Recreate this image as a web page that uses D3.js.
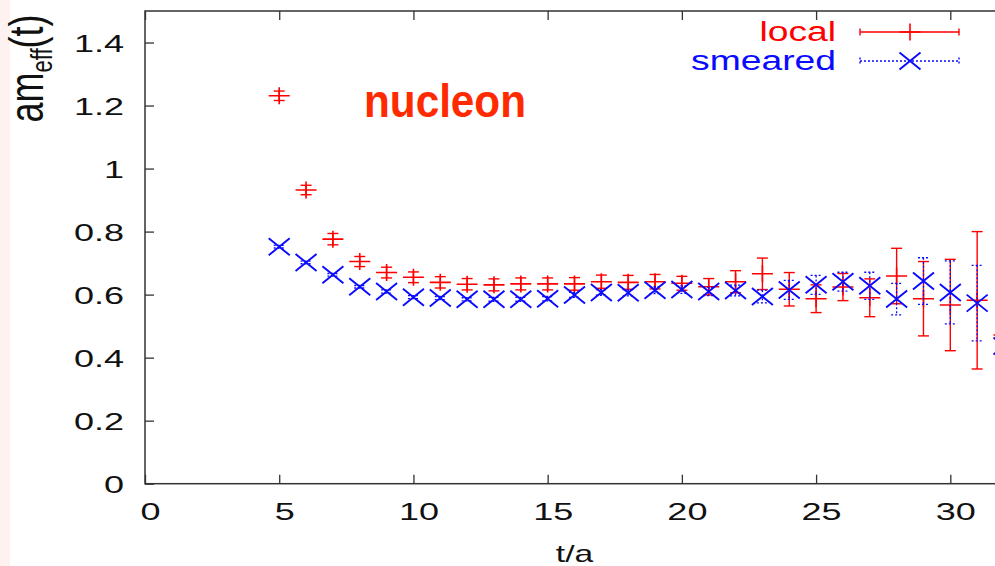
<!DOCTYPE html>
<html lang="en">
  <head>
    <meta charset="utf-8">
    <title>nucleon_effective_mass</title>
    <script src="https://d3js.org/d3.v7.js"></script>
    <style>
      body { margin: 0; background: white; }
      svg text { font-family: "Liberation Sans", Arial, Helvetica, sans-serif; }
    </style>
  </head>

  <body>
  <script>

// data

  var tVals = [5, 6, 7, 8, 9, 10, 11, 12, 13, 14, 15, 16, 17, 18, 19, 20,
               21, 22, 23, 24, 25, 26, 27, 28, 29, 30, 31, 32];

  var localVals = [1.231, 0.932, 0.776, 0.705, 0.670, 0.655, 0.639, 0.633,
                   0.631, 0.634, 0.634, 0.634, 0.641, 0.639, 0.641, 0.636,
                   0.625, 0.641, 0.666, 0.617, 0.587, 0.624, 0.590, 0.659,
                   0.587, 0.567, 0.582, 0.472];
  var localErr = [0.015, 0.015, 0.018, 0.016, 0.017, 0.017, 0.018, 0.018,
                  0.019, 0.019, 0.019, 0.020, 0.021, 0.022, 0.023, 0.022,
                  0.026, 0.035, 0.050, 0.053, 0.044, 0.043, 0.060, 0.088,
                  0.118, 0.145, 0.218, 0.300];

  var smearedVals = [0.752, 0.702, 0.663, 0.625, 0.610, 0.592, 0.589, 0.585,
                     0.585, 0.585, 0.587, 0.599, 0.607, 0.606, 0.614, 0.616,
                     0.610, 0.613, 0.594, 0.615, 0.631, 0.641, 0.628, 0.586,
                     0.643, 0.607, 0.573, 0.437];
  var smearedErr = [0.004, 0.004, 0.004, 0.004, 0.005, 0.005, 0.005, 0.005,
                    0.006, 0.006, 0.007, 0.008, 0.009, 0.010, 0.011, 0.012,
                    0.013, 0.017, 0.020, 0.030, 0.030, 0.030, 0.043, 0.050,
                    0.074, 0.100, 0.120, 0.200];

  var xTicks = [0, 5, 10, 15, 20, 25, 30];
  var yTicks = [0, 0.2, 0.4, 0.6, 0.8, 1, 1.2, 1.4];
  var yTickLabels = ["0", "0.2", "0.4", "0.6", "0.8", "1", "1.2", "1.4"];

  var seriesNames = ["local", "smeared"];

// sizes

  var w = 995;
  var h = 566;
  var plot = {left: 145, right: 1004, top: 11, bottom: 483.7};
  var red = "#ff0000";
  var blue = "#0a0aff";

  var xScale = d3.scaleLinear()
      .domain([0, 32])
      .range([plot.left, plot.right]);

  var yScale = d3.scaleLinear()
      .domain([0, 1.5])
      .range([plot.bottom, plot.top]);

  var svg = d3.select("body")
    .append("svg")
      .attr("width", w)
      .attr("height", h);

// pink strip on the left edge

  svg.append("rect")
      .attr("x", 0).attr("y", 0)
      .attr("width", 10).attr("height", h)
      .attr("fill", "#fdf2ef");

// axes, ticks pointing inward on all four sides

  var xAxis = d3.axisBottom(xScale).tickValues(xTicks).tickSize(-9).tickSizeOuter(0);
  var xAxisTop = d3.axisTop(xScale).tickValues(xTicks).tickSize(-9).tickSizeOuter(0).tickFormat("");
  var yAxis = d3.axisLeft(yScale).tickValues(yTicks).tickSize(-9).tickSizeOuter(0)
      .tickFormat((d, i) => yTickLabels[i]);
  var yAxisRight = d3.axisRight(yScale).tickValues(yTicks).tickSize(-9).tickSizeOuter(0).tickFormat("");

  var gx = svg.append("g")
      .attr("transform", `translate(0, ${plot.bottom})`)
      .call(xAxis);
  gx.selectAll("text")
      .attr("y", null).attr("dy", null)
      .attr("transform", "translate(5, 36.5) scale(1.5, 1)");

  svg.append("g")
      .attr("transform", `translate(0, ${plot.top})`)
      .call(xAxisTop);

  var gy = svg.append("g")
      .attr("transform", `translate(${plot.left}, 0)`)
      .call(yAxis);
  gy.selectAll("text")
      .attr("x", null).attr("dy", null)
      .attr("transform", "translate(-21, 8.5) scale(1.5, 1)");

  svg.append("g")
      .attr("transform", `translate(${plot.right}, 0)`)
      .call(yAxisRight);

  svg.selectAll(".domain").remove();
  svg.selectAll(".tick line").attr("stroke", "#333").attr("stroke-width", 1.3);
  svg.selectAll(".tick text")
      .attr("font-size", 24)
      .attr("font-family", "Liberation Sans, Arial, sans-serif")
      .attr("fill", "#111");

// frame

  svg.append("rect")
      .attr("x", plot.left).attr("y", plot.top)
      .attr("width", plot.right - plot.left)
      .attr("height", plot.bottom - plot.top)
      .attr("fill", "none")
      .attr("stroke", "#333")
      .attr("stroke-width", 1.5);

// axis titles

  var ylab = svg.append("text")
      .attr("transform", "translate(43, 68.5) rotate(-90) scale(1, 1.34)")
      .attr("text-anchor", "middle")
      .attr("font-size", 36)
      .attr("fill", "#111");
  ylab.append("tspan").text("am");
  ylab.append("tspan").attr("font-size", 22).attr("dy", 7).text("eff");
  ylab.append("tspan").attr("dy", -7).text("(t)");

  svg.append("text")
      .attr("transform", `translate(${(plot.left + plot.right) / 2}, 562) scale(1.4, 1)`)
      .attr("text-anchor", "middle")
      .attr("font-size", 24)
      .attr("fill", "#111")
      .text("t/a");

  svg.append("text")
      .attr("x", 364).attr("y", 117)
      .attr("font-size", 46)
      .attr("font-weight", "bold")
      .attr("fill", "#ff2a00")
      .attr("textLength", 162)
      .attr("lengthAdjust", "spacingAndGlyphs")
      .text("nucleon");

// data marks

  var localData = tVals.map((t, i) => ({t: t, v: localVals[i], e: localErr[i]}));
  var smearedData = tVals.map((t, i) => ({t: t, v: smearedVals[i], e: smearedErr[i]}));

  var capW = 5.5;   // half width of error bar caps
  var mW = 10.5;    // half width of point marker
  var mH = 8.5;     // half height of point marker

  function errorBars(g, data, color, dash, sw) {
    var eb = g.selectAll("g.eb")
      .data(data)
      .enter().append("g")
        .attr("class", "eb")
        .attr("stroke", color)
        .attr("stroke-width", sw)
        .attr("stroke-dasharray", dash)
        .attr("fill", "none");
    eb.append("line")
        .attr("x1", d => xScale(d.t)).attr("x2", d => xScale(d.t))
        .attr("y1", d => yScale(d.v + d.e)).attr("y2", d => yScale(d.v - d.e));
    eb.append("line")
        .attr("x1", d => xScale(d.t) - capW).attr("x2", d => xScale(d.t) + capW)
        .attr("y1", d => yScale(d.v + d.e)).attr("y2", d => yScale(d.v + d.e));
    eb.append("line")
        .attr("x1", d => xScale(d.t) - capW).attr("x2", d => xScale(d.t) + capW)
        .attr("y1", d => yScale(d.v - d.e)).attr("y2", d => yScale(d.v - d.e));
  }

  function plusPath(x, y) {
    return `M${x - mW},${y}H${x + mW}M${x},${y - mH}V${y + mH}`;
  }
  function crossPath(x, y) {
    return `M${x - mW},${y - mH}L${x + mW},${y + mH}M${x - mW},${y + mH}L${x + mW},${y - mH}`;
  }

  var gLocal = svg.append("g").attr("id", "local");
  errorBars(gLocal, localData, red, null, 1.4);
  gLocal.selectAll("path")
      .data(localData)
      .enter().append("path")
        .attr("d", d => plusPath(xScale(d.t), yScale(d.v)))
        .attr("stroke", red)
        .attr("stroke-width", 1.6)
        .attr("fill", "none");

  var gSmeared = svg.append("g").attr("id", "smeared");
  errorBars(gSmeared, smearedData, blue, "2,2", 1.3);
  gSmeared.selectAll("path")
      .data(smearedData)
      .enter().append("path")
        .attr("d", d => crossPath(xScale(d.t), yScale(d.v)))
        .attr("stroke", blue)
        .attr("stroke-width", 1.9)
        .attr("fill", "none");

// legend

  var legend = svg.append("g").attr("id", "legend");
  var legendRows = [
    {name: seriesNames[0], color: red, dash: null, y: 32, mark: plusPath},
    {name: seriesNames[1], color: blue, dash: "2,2", y: 61, mark: crossPath}
  ];

  legendRows.forEach(r => {
    legend.append("text")
        .attr("transform", `translate(836, ${r.y + 9}) scale(1.38, 1)`)
        .attr("text-anchor", "end")
        .attr("font-size", 27)
        .attr("fill", r.color)
        .text(r.name);
    var s = legend.append("g")
        .attr("stroke", r.color)
        .attr("stroke-width", 1.4)
        .attr("stroke-dasharray", r.dash)
        .attr("fill", "none");
    s.append("path").attr("d", `M860,${r.y}H959M860,${r.y - 3.5}V${r.y + 3.5}M959,${r.y - 3.5}V${r.y + 3.5}`);
    legend.append("path")
        .attr("d", r.mark(910, r.y))
        .attr("stroke", r.color)
        .attr("stroke-width", r.dash ? 1.9 : 1.6)
        .attr("fill", "none");
  });

  </script>
  </body>

</html>
